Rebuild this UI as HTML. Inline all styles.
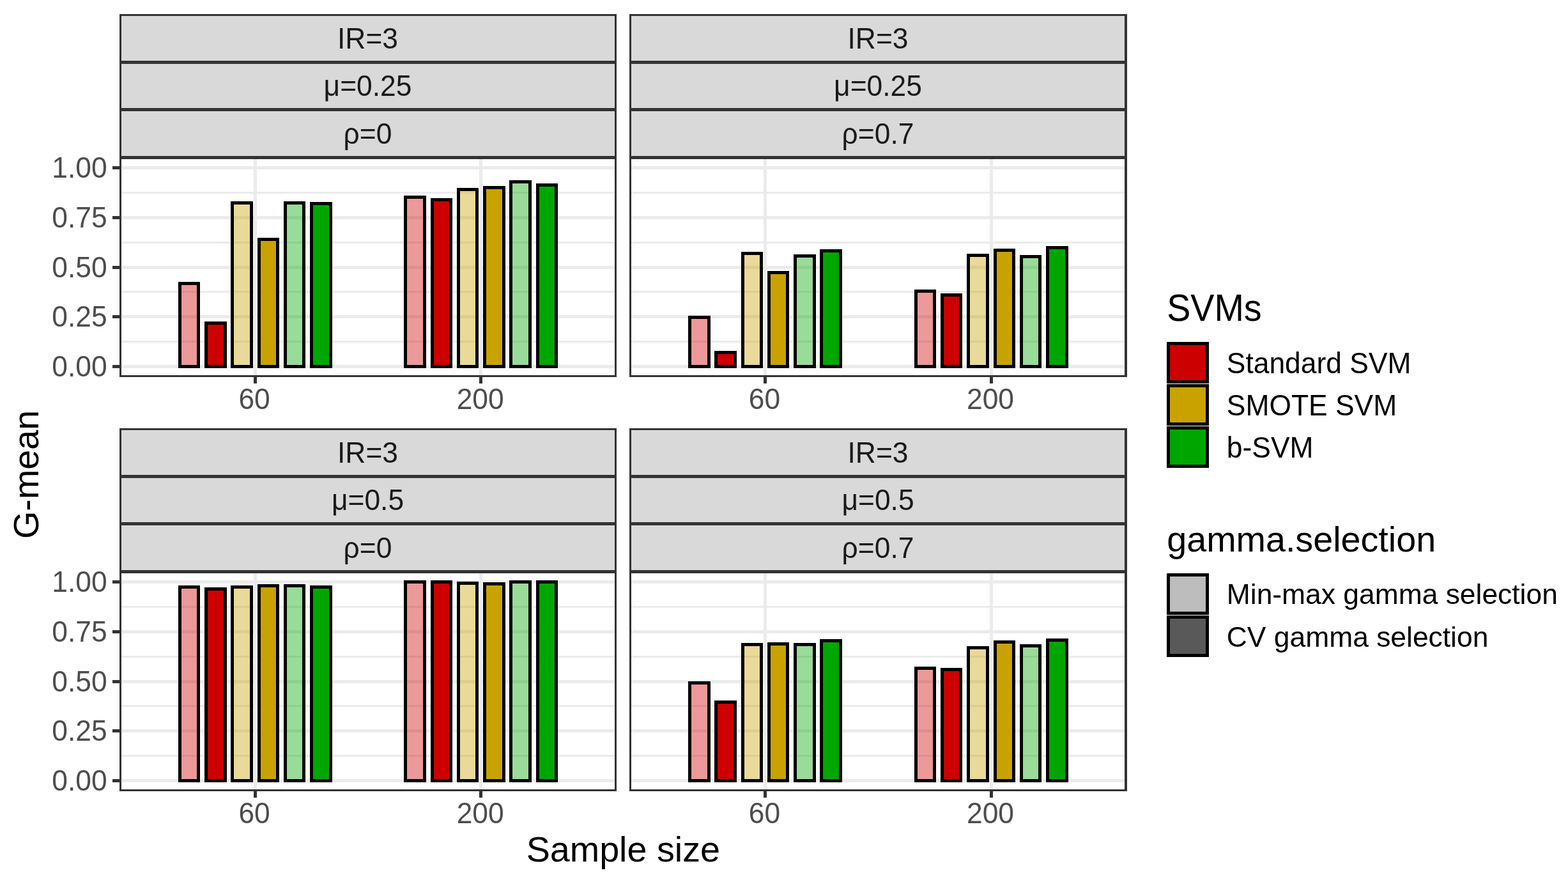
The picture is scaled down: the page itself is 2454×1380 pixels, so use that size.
<!DOCTYPE html>
<html lang="en">
<head>
<meta charset="utf-8">
<title>G-mean by sample size</title>
<style>
html,body{margin:0;padding:0;background:#FFFFFF;}
body{width:2454px;height:1380px;overflow:hidden;}
svg{display:block;}
text{font-family:'Liberation Sans',Arial,sans-serif;}
</style>
</head>
<body>
<svg width="2454" height="1380" viewBox="0 0 2454 1380" font-family="'Liberation Sans', Arial, sans-serif" shape-rendering="crispEdges">
<rect x="0" y="0" width="2454" height="1380" fill="#FFFFFF"/>
<rect x="187" y="22" width="778" height="568" fill="#333333"/>
<rect x="190" y="25" width="772" height="70" fill="#D9D9D9"/>
<rect x="190" y="100" width="772" height="69" fill="#D9D9D9"/>
<rect x="190" y="174" width="772" height="70" fill="#D9D9D9"/>
<rect x="190" y="249" width="772" height="338" fill="#FFFFFF"/>
<clipPath id="clip00"><rect x="190" y="249" width="772" height="338"/></clipPath>
<g clip-path="url(#clip00)">
<line x1="187" x2="965" y1="534.62" y2="534.62" stroke="#EBEBEB" stroke-width="3"/>
<line x1="187" x2="965" y1="456.88" y2="456.88" stroke="#EBEBEB" stroke-width="3"/>
<line x1="187" x2="965" y1="379.12" y2="379.12" stroke="#EBEBEB" stroke-width="3"/>
<line x1="187" x2="965" y1="301.38" y2="301.38" stroke="#EBEBEB" stroke-width="3"/>
<line x1="187" x2="965" y1="573.5" y2="573.5" stroke="#EBEBEB" stroke-width="5"/>
<line x1="187" x2="965" y1="495.75" y2="495.75" stroke="#EBEBEB" stroke-width="5"/>
<line x1="187" x2="965" y1="418" y2="418" stroke="#EBEBEB" stroke-width="5"/>
<line x1="187" x2="965" y1="340.25" y2="340.25" stroke="#EBEBEB" stroke-width="5"/>
<line x1="187" x2="965" y1="262.5" y2="262.5" stroke="#EBEBEB" stroke-width="5"/>
<line x1="399.18" x2="399.18" y1="246.5" y2="590" stroke="#EBEBEB" stroke-width="5"/>
<line x1="752.82" x2="752.82" y1="246.5" y2="590" stroke="#EBEBEB" stroke-width="5"/>
<rect x="281.3" y="443.75" width="29.47" height="129.75" fill="#CC0000" fill-opacity="0.4" stroke="#000000" stroke-width="5"/>
<rect x="322.56" y="505.6" width="29.47" height="67.9" fill="#CC0000" stroke="#000000" stroke-width="5"/>
<rect x="363.82" y="317.58" width="29.47" height="255.92" fill="#C9A200" fill-opacity="0.4" stroke="#000000" stroke-width="5"/>
<rect x="405.08" y="374.6" width="29.47" height="198.9" fill="#C9A200" stroke="#000000" stroke-width="5"/>
<rect x="446.33" y="317.58" width="29.47" height="255.92" fill="#00A600" fill-opacity="0.4" stroke="#000000" stroke-width="5"/>
<rect x="487.59" y="318.7" width="29.47" height="254.8" fill="#00A600" stroke="#000000" stroke-width="5"/>
<rect x="634.94" y="308.7" width="29.47" height="264.8" fill="#CC0000" fill-opacity="0.4" stroke="#000000" stroke-width="5"/>
<rect x="676.2" y="312.8" width="29.47" height="260.7" fill="#CC0000" stroke="#000000" stroke-width="5"/>
<rect x="717.45" y="296.7" width="29.47" height="276.8" fill="#C9A200" fill-opacity="0.4" stroke="#000000" stroke-width="5"/>
<rect x="758.71" y="293.7" width="29.47" height="279.8" fill="#C9A200" stroke="#000000" stroke-width="5"/>
<rect x="799.97" y="284.7" width="29.47" height="288.8" fill="#00A600" fill-opacity="0.4" stroke="#000000" stroke-width="5"/>
<rect x="841.23" y="289.7" width="29.47" height="283.8" fill="#00A600" stroke="#000000" stroke-width="5"/>
</g>
<text transform="translate(575.5 76) scale(1 1.035)" text-anchor="middle" font-size="44.4" fill="#1A1A1A">IR=3</text>
<text transform="translate(575.5 150) scale(1 1.035)" text-anchor="middle" font-size="44.4" fill="#1A1A1A">μ=0.25</text>
<text transform="translate(575.5 224.8) scale(1 1.035)" text-anchor="middle" font-size="44.4" fill="#1A1A1A">ρ=0</text>
<line x1="399.18" x2="399.18" y1="590" y2="600" stroke="#333333" stroke-width="5"/>
<text transform="translate(398.08 639.7) scale(1 1.035)" text-anchor="middle" font-size="44.4" fill="#4D4D4D">60</text>
<line x1="752.82" x2="752.82" y1="590" y2="600" stroke="#333333" stroke-width="5"/>
<text transform="translate(751.72 639.7) scale(1 1.035)" text-anchor="middle" font-size="44.4" fill="#4D4D4D">200</text>
<line x1="176" x2="188" y1="573.5" y2="573.5" stroke="#333333" stroke-width="5"/>
<text transform="translate(167.7 589.1) scale(1 1.035)" text-anchor="end" font-size="44.4" fill="#4D4D4D">0.00</text>
<line x1="176" x2="188" y1="495.75" y2="495.75" stroke="#333333" stroke-width="5"/>
<text transform="translate(167.7 511.35) scale(1 1.035)" text-anchor="end" font-size="44.4" fill="#4D4D4D">0.25</text>
<line x1="176" x2="188" y1="418" y2="418" stroke="#333333" stroke-width="5"/>
<text transform="translate(167.7 433.6) scale(1 1.035)" text-anchor="end" font-size="44.4" fill="#4D4D4D">0.50</text>
<line x1="176" x2="188" y1="340.25" y2="340.25" stroke="#333333" stroke-width="5"/>
<text transform="translate(167.7 355.85) scale(1 1.035)" text-anchor="end" font-size="44.4" fill="#4D4D4D">0.75</text>
<line x1="176" x2="188" y1="262.5" y2="262.5" stroke="#333333" stroke-width="5"/>
<text transform="translate(167.7 278.1) scale(1 1.035)" text-anchor="end" font-size="44.4" fill="#4D4D4D">1.00</text>
<rect x="985" y="22" width="779" height="568" fill="#333333"/>
<rect x="988" y="25" width="772" height="70" fill="#D9D9D9"/>
<rect x="988" y="100" width="772" height="69" fill="#D9D9D9"/>
<rect x="988" y="174" width="772" height="70" fill="#D9D9D9"/>
<rect x="988" y="249" width="772" height="338" fill="#FFFFFF"/>
<clipPath id="clip01"><rect x="988" y="249" width="772" height="338"/></clipPath>
<g clip-path="url(#clip01)">
<line x1="985" x2="1764" y1="534.62" y2="534.62" stroke="#EBEBEB" stroke-width="3"/>
<line x1="985" x2="1764" y1="456.88" y2="456.88" stroke="#EBEBEB" stroke-width="3"/>
<line x1="985" x2="1764" y1="379.12" y2="379.12" stroke="#EBEBEB" stroke-width="3"/>
<line x1="985" x2="1764" y1="301.38" y2="301.38" stroke="#EBEBEB" stroke-width="3"/>
<line x1="985" x2="1764" y1="573.5" y2="573.5" stroke="#EBEBEB" stroke-width="5"/>
<line x1="985" x2="1764" y1="495.75" y2="495.75" stroke="#EBEBEB" stroke-width="5"/>
<line x1="985" x2="1764" y1="418" y2="418" stroke="#EBEBEB" stroke-width="5"/>
<line x1="985" x2="1764" y1="340.25" y2="340.25" stroke="#EBEBEB" stroke-width="5"/>
<line x1="985" x2="1764" y1="262.5" y2="262.5" stroke="#EBEBEB" stroke-width="5"/>
<line x1="1197.48" x2="1197.48" y1="246.5" y2="590" stroke="#EBEBEB" stroke-width="5"/>
<line x1="1551.12" x2="1551.12" y1="246.5" y2="590" stroke="#EBEBEB" stroke-width="5"/>
<rect x="1079.6" y="496.6" width="29.47" height="76.9" fill="#CC0000" fill-opacity="0.4" stroke="#000000" stroke-width="5"/>
<rect x="1120.86" y="551.7" width="29.47" height="21.8" fill="#CC0000" stroke="#000000" stroke-width="5"/>
<rect x="1162.12" y="396.65" width="29.47" height="176.85" fill="#C9A200" fill-opacity="0.4" stroke="#000000" stroke-width="5"/>
<rect x="1203.38" y="426.9" width="29.47" height="146.6" fill="#C9A200" stroke="#000000" stroke-width="5"/>
<rect x="1244.63" y="400.8" width="29.47" height="172.7" fill="#00A600" fill-opacity="0.4" stroke="#000000" stroke-width="5"/>
<rect x="1285.89" y="392.7" width="29.47" height="180.8" fill="#00A600" stroke="#000000" stroke-width="5"/>
<rect x="1433.24" y="455.7" width="29.47" height="117.8" fill="#CC0000" fill-opacity="0.4" stroke="#000000" stroke-width="5"/>
<rect x="1474.5" y="461.7" width="29.47" height="111.8" fill="#CC0000" stroke="#000000" stroke-width="5"/>
<rect x="1515.75" y="399.7" width="29.47" height="173.8" fill="#C9A200" fill-opacity="0.4" stroke="#000000" stroke-width="5"/>
<rect x="1557.01" y="391.8" width="29.47" height="181.7" fill="#C9A200" stroke="#000000" stroke-width="5"/>
<rect x="1598.27" y="401.6" width="29.47" height="171.9" fill="#00A600" fill-opacity="0.4" stroke="#000000" stroke-width="5"/>
<rect x="1639.53" y="387.7" width="29.47" height="185.8" fill="#00A600" stroke="#000000" stroke-width="5"/>
</g>
<text transform="translate(1374 76) scale(1 1.035)" text-anchor="middle" font-size="44.4" fill="#1A1A1A">IR=3</text>
<text transform="translate(1374 150) scale(1 1.035)" text-anchor="middle" font-size="44.4" fill="#1A1A1A">μ=0.25</text>
<text transform="translate(1374 224.8) scale(1 1.035)" text-anchor="middle" font-size="44.4" fill="#1A1A1A">ρ=0.7</text>
<line x1="1197.48" x2="1197.48" y1="590" y2="600" stroke="#333333" stroke-width="5"/>
<text transform="translate(1196.38 639.7) scale(1 1.035)" text-anchor="middle" font-size="44.4" fill="#4D4D4D">60</text>
<line x1="1551.12" x2="1551.12" y1="590" y2="600" stroke="#333333" stroke-width="5"/>
<text transform="translate(1550.02 639.7) scale(1 1.035)" text-anchor="middle" font-size="44.4" fill="#4D4D4D">200</text>
<rect x="187" y="670" width="778" height="568" fill="#333333"/>
<rect x="190" y="673" width="772" height="70" fill="#D9D9D9"/>
<rect x="190" y="748" width="772" height="69" fill="#D9D9D9"/>
<rect x="190" y="822" width="772" height="70" fill="#D9D9D9"/>
<rect x="190" y="897" width="772" height="338" fill="#FFFFFF"/>
<clipPath id="clip10"><rect x="190" y="897" width="772" height="338"/></clipPath>
<g clip-path="url(#clip10)">
<line x1="187" x2="965" y1="1182.62" y2="1182.62" stroke="#EBEBEB" stroke-width="3"/>
<line x1="187" x2="965" y1="1104.88" y2="1104.88" stroke="#EBEBEB" stroke-width="3"/>
<line x1="187" x2="965" y1="1027.12" y2="1027.12" stroke="#EBEBEB" stroke-width="3"/>
<line x1="187" x2="965" y1="949.38" y2="949.38" stroke="#EBEBEB" stroke-width="3"/>
<line x1="187" x2="965" y1="1221.5" y2="1221.5" stroke="#EBEBEB" stroke-width="5"/>
<line x1="187" x2="965" y1="1143.75" y2="1143.75" stroke="#EBEBEB" stroke-width="5"/>
<line x1="187" x2="965" y1="1066" y2="1066" stroke="#EBEBEB" stroke-width="5"/>
<line x1="187" x2="965" y1="988.25" y2="988.25" stroke="#EBEBEB" stroke-width="5"/>
<line x1="187" x2="965" y1="910.5" y2="910.5" stroke="#EBEBEB" stroke-width="5"/>
<line x1="399.18" x2="399.18" y1="894.5" y2="1238" stroke="#EBEBEB" stroke-width="5"/>
<line x1="752.82" x2="752.82" y1="894.5" y2="1238" stroke="#EBEBEB" stroke-width="5"/>
<rect x="281.3" y="918.6" width="29.47" height="302.9" fill="#CC0000" fill-opacity="0.4" stroke="#000000" stroke-width="5"/>
<rect x="322.56" y="921.6" width="29.47" height="299.9" fill="#CC0000" stroke="#000000" stroke-width="5"/>
<rect x="363.82" y="918.6" width="29.47" height="302.9" fill="#C9A200" fill-opacity="0.4" stroke="#000000" stroke-width="5"/>
<rect x="405.08" y="916.7" width="29.47" height="304.8" fill="#C9A200" stroke="#000000" stroke-width="5"/>
<rect x="446.33" y="916.7" width="29.47" height="304.8" fill="#00A600" fill-opacity="0.4" stroke="#000000" stroke-width="5"/>
<rect x="487.59" y="918.6" width="29.47" height="302.9" fill="#00A600" stroke="#000000" stroke-width="5"/>
<rect x="634.94" y="910.7" width="29.47" height="310.8" fill="#CC0000" fill-opacity="0.4" stroke="#000000" stroke-width="5"/>
<rect x="676.2" y="910.7" width="29.47" height="310.8" fill="#CC0000" stroke="#000000" stroke-width="5"/>
<rect x="717.45" y="912.6" width="29.47" height="308.9" fill="#C9A200" fill-opacity="0.4" stroke="#000000" stroke-width="5"/>
<rect x="758.71" y="913.7" width="29.47" height="307.8" fill="#C9A200" stroke="#000000" stroke-width="5"/>
<rect x="799.97" y="910.7" width="29.47" height="310.8" fill="#00A600" fill-opacity="0.4" stroke="#000000" stroke-width="5"/>
<rect x="841.23" y="910.7" width="29.47" height="310.8" fill="#00A600" stroke="#000000" stroke-width="5"/>
</g>
<text transform="translate(575.5 724) scale(1 1.035)" text-anchor="middle" font-size="44.4" fill="#1A1A1A">IR=3</text>
<text transform="translate(575.5 798) scale(1 1.035)" text-anchor="middle" font-size="44.4" fill="#1A1A1A">μ=0.5</text>
<text transform="translate(575.5 872.8) scale(1 1.035)" text-anchor="middle" font-size="44.4" fill="#1A1A1A">ρ=0</text>
<line x1="399.18" x2="399.18" y1="1238" y2="1248" stroke="#333333" stroke-width="5"/>
<text transform="translate(398.08 1287.7) scale(1 1.035)" text-anchor="middle" font-size="44.4" fill="#4D4D4D">60</text>
<line x1="752.82" x2="752.82" y1="1238" y2="1248" stroke="#333333" stroke-width="5"/>
<text transform="translate(751.72 1287.7) scale(1 1.035)" text-anchor="middle" font-size="44.4" fill="#4D4D4D">200</text>
<line x1="176" x2="188" y1="1221.5" y2="1221.5" stroke="#333333" stroke-width="5"/>
<text transform="translate(167.7 1237.1) scale(1 1.035)" text-anchor="end" font-size="44.4" fill="#4D4D4D">0.00</text>
<line x1="176" x2="188" y1="1143.75" y2="1143.75" stroke="#333333" stroke-width="5"/>
<text transform="translate(167.7 1159.35) scale(1 1.035)" text-anchor="end" font-size="44.4" fill="#4D4D4D">0.25</text>
<line x1="176" x2="188" y1="1066" y2="1066" stroke="#333333" stroke-width="5"/>
<text transform="translate(167.7 1081.6) scale(1 1.035)" text-anchor="end" font-size="44.4" fill="#4D4D4D">0.50</text>
<line x1="176" x2="188" y1="988.25" y2="988.25" stroke="#333333" stroke-width="5"/>
<text transform="translate(167.7 1003.85) scale(1 1.035)" text-anchor="end" font-size="44.4" fill="#4D4D4D">0.75</text>
<line x1="176" x2="188" y1="910.5" y2="910.5" stroke="#333333" stroke-width="5"/>
<text transform="translate(167.7 926.1) scale(1 1.035)" text-anchor="end" font-size="44.4" fill="#4D4D4D">1.00</text>
<rect x="985" y="670" width="779" height="568" fill="#333333"/>
<rect x="988" y="673" width="772" height="70" fill="#D9D9D9"/>
<rect x="988" y="748" width="772" height="69" fill="#D9D9D9"/>
<rect x="988" y="822" width="772" height="70" fill="#D9D9D9"/>
<rect x="988" y="897" width="772" height="338" fill="#FFFFFF"/>
<clipPath id="clip11"><rect x="988" y="897" width="772" height="338"/></clipPath>
<g clip-path="url(#clip11)">
<line x1="985" x2="1764" y1="1182.62" y2="1182.62" stroke="#EBEBEB" stroke-width="3"/>
<line x1="985" x2="1764" y1="1104.88" y2="1104.88" stroke="#EBEBEB" stroke-width="3"/>
<line x1="985" x2="1764" y1="1027.12" y2="1027.12" stroke="#EBEBEB" stroke-width="3"/>
<line x1="985" x2="1764" y1="949.38" y2="949.38" stroke="#EBEBEB" stroke-width="3"/>
<line x1="985" x2="1764" y1="1221.5" y2="1221.5" stroke="#EBEBEB" stroke-width="5"/>
<line x1="985" x2="1764" y1="1143.75" y2="1143.75" stroke="#EBEBEB" stroke-width="5"/>
<line x1="985" x2="1764" y1="1066" y2="1066" stroke="#EBEBEB" stroke-width="5"/>
<line x1="985" x2="1764" y1="988.25" y2="988.25" stroke="#EBEBEB" stroke-width="5"/>
<line x1="985" x2="1764" y1="910.5" y2="910.5" stroke="#EBEBEB" stroke-width="5"/>
<line x1="1197.48" x2="1197.48" y1="894.5" y2="1238" stroke="#EBEBEB" stroke-width="5"/>
<line x1="1551.12" x2="1551.12" y1="894.5" y2="1238" stroke="#EBEBEB" stroke-width="5"/>
<rect x="1079.6" y="1068.6" width="29.47" height="152.9" fill="#CC0000" fill-opacity="0.4" stroke="#000000" stroke-width="5"/>
<rect x="1120.86" y="1098.7" width="29.47" height="122.8" fill="#CC0000" stroke="#000000" stroke-width="5"/>
<rect x="1162.12" y="1008.7" width="29.47" height="212.8" fill="#C9A200" fill-opacity="0.4" stroke="#000000" stroke-width="5"/>
<rect x="1203.38" y="1007.7" width="29.47" height="213.8" fill="#C9A200" stroke="#000000" stroke-width="5"/>
<rect x="1244.63" y="1008.7" width="29.47" height="212.8" fill="#00A600" fill-opacity="0.4" stroke="#000000" stroke-width="5"/>
<rect x="1285.89" y="1002.8" width="29.47" height="218.7" fill="#00A600" stroke="#000000" stroke-width="5"/>
<rect x="1433.24" y="1045.7" width="29.47" height="175.8" fill="#CC0000" fill-opacity="0.4" stroke="#000000" stroke-width="5"/>
<rect x="1474.5" y="1047.6" width="29.47" height="173.9" fill="#CC0000" stroke="#000000" stroke-width="5"/>
<rect x="1515.75" y="1013.7" width="29.47" height="207.8" fill="#C9A200" fill-opacity="0.4" stroke="#000000" stroke-width="5"/>
<rect x="1557.01" y="1004.7" width="29.47" height="216.8" fill="#C9A200" stroke="#000000" stroke-width="5"/>
<rect x="1598.27" y="1010.7" width="29.47" height="210.8" fill="#00A600" fill-opacity="0.4" stroke="#000000" stroke-width="5"/>
<rect x="1639.53" y="1001.7" width="29.47" height="219.8" fill="#00A600" stroke="#000000" stroke-width="5"/>
</g>
<text transform="translate(1374 724) scale(1 1.035)" text-anchor="middle" font-size="44.4" fill="#1A1A1A">IR=3</text>
<text transform="translate(1374 798) scale(1 1.035)" text-anchor="middle" font-size="44.4" fill="#1A1A1A">μ=0.5</text>
<text transform="translate(1374 872.8) scale(1 1.035)" text-anchor="middle" font-size="44.4" fill="#1A1A1A">ρ=0.7</text>
<line x1="1197.48" x2="1197.48" y1="1238" y2="1248" stroke="#333333" stroke-width="5"/>
<text transform="translate(1196.38 1287.7) scale(1 1.035)" text-anchor="middle" font-size="44.4" fill="#4D4D4D">60</text>
<line x1="1551.12" x2="1551.12" y1="1238" y2="1248" stroke="#333333" stroke-width="5"/>
<text transform="translate(1550.02 1287.7) scale(1 1.035)" text-anchor="middle" font-size="44.4" fill="#4D4D4D">200</text>
<text x="975.3" y="1347.8" text-anchor="middle" font-size="55.7" fill="#000000">Sample size</text>
<text transform="translate(60 742.4) rotate(-90)" text-anchor="middle" font-size="55.7" fill="#000000">G-mean</text>
<text transform="translate(1826.2 501.6) scale(1 1.05)" font-size="55.7" fill="#000000">SVMs</text>
<rect x="1828.5" y="537.5" width="61" height="60" fill="#CC0000" stroke="#000000" stroke-width="5"/>
<text transform="translate(1919.8 583.9) scale(1 1.035)" font-size="44.4" fill="#000000">Standard SVM</text>
<rect x="1828.5" y="603.5" width="61" height="60" fill="#C9A200" stroke="#000000" stroke-width="5"/>
<text transform="translate(1919.8 649.9) scale(1 1.035)" font-size="44.4" fill="#000000">SMOTE SVM</text>
<rect x="1828.5" y="669.5" width="61" height="60" fill="#00A600" stroke="#000000" stroke-width="5"/>
<text transform="translate(1919.8 715.9) scale(1 1.035)" font-size="44.4" fill="#000000">b-SVM</text>
<text x="1826.2" y="863.2" font-size="55.7" fill="#000000">gamma.selection</text>
<rect x="1828.5" y="899" width="61" height="60" fill="#595959" fill-opacity="0.4" stroke="#000000" stroke-width="5"/>
<text x="1919.8" y="945.4" font-size="44.4" fill="#000000">Min-max gamma selection</text>
<rect x="1828.5" y="965.5" width="61" height="60" fill="#595959" stroke="#000000" stroke-width="5"/>
<text x="1919.8" y="1011.9" font-size="44.4" fill="#000000">CV gamma selection</text>
</svg>
</body>
</html>
